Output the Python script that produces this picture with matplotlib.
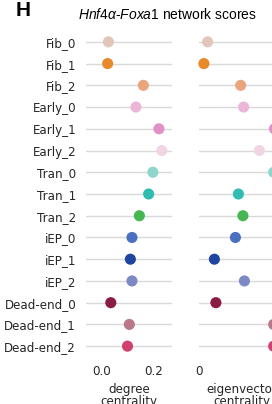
import matplotlib.pyplot as plt

clusters = ["Fib_0", "Fib_1", "Fib_2", "Early_0", "Early_1", "Early_2",
            "Tran_0", "Tran_1", "Tran_2", "iEP_0", "iEP_1", "iEP_2",
            "Dead-end_0", "Dead-end_1", "Dead-end_2"]
degree = [0.027, 0.024, 0.159, 0.131, 0.218, 0.229, 0.195, 0.179, 0.144,
          0.116, 0.110, 0.116, 0.036, 0.106, 0.099]
eigenvector = [0.11, 0.06, 0.55, 0.59, 1.00, 0.80, 0.99, 0.52, 0.58,
               0.48, 0.20, 0.60, 0.22, 0.99, 0.99]
colors = ["#e2c6b9", "#e8892a", "#e9a67e", "#ebb6d7", "#e191c5", "#f0d5e5",
          "#90d5cd", "#2fbdb1", "#45b651", "#4b70bf", "#1f45a0", "#7b89c4",
          "#8a1d45", "#b97889", "#d1416d"]

plt.rcParams["font.family"] = "DejaVu Sans"
plt.rcParams["mathtext.fontset"] = "custom"
plt.rcParams["mathtext.rm"] = "Liberation Sans"
plt.rcParams["mathtext.it"] = "Liberation Sans:italic"

fig = plt.figure(figsize=(2.72, 4.04), dpi=100)
ax1 = fig.add_axes([0.316, 0.1163, 0.316, 0.807])
ax2 = fig.add_axes([0.7316, 0.1163, 0.316, 0.807])

ypos = list(range(len(clusters)))
panels = [
    (ax1, degree, (-0.058, 0.267), [0.0, 0.2], ["0.0", "0.2"], "degree\ncentrality"),
    (ax2, eigenvector, (-0.005, 1.14), [0, 1], ["0", "1"], "eigenvector\ncentrality"),
]
for ax, vals, xlim, ticks, ticklabels, label in panels:
    ax.scatter(vals, ypos, c=colors, s=64, linewidths=0, zorder=3, clip_on=False)
    ax.set_ylim(len(clusters) - 0.5, -0.5)
    ax.set_xlim(*xlim)
    ax.set_yticks(ypos)
    ax.set_xticks(ticks)
    ax.set_xticklabels(ticklabels)
    ax.set_axisbelow(True)
    ax.yaxis.grid(True, color="#d9d9d9", lw=1)
    ax.xaxis.grid(False)
    ax.tick_params(length=0, labelsize=8.6, colors="#262626", pad=6)
    ax.set_xlabel(label, fontsize=8.6, color="#262626", labelpad=3, linespacing=0.95)
    for s in ax.spines.values():
        s.set_visible(False)

ax1.set_yticklabels(clusters)
ax1.tick_params(axis="y", pad=7)
ax2.set_yticklabels([])

fig.text(0.058, 0.975, "H", fontsize=15, fontweight="bold",
         family="Liberation Sans", ha="left", va="center")
fig.text(0.614, 0.965, r"$\it{Hnf4\alpha}$-$\it{Foxa1}$ network scores",
         fontsize=10, family="Liberation Sans", ha="center", va="center")

fig.savefig("out.png", dpi=100)
